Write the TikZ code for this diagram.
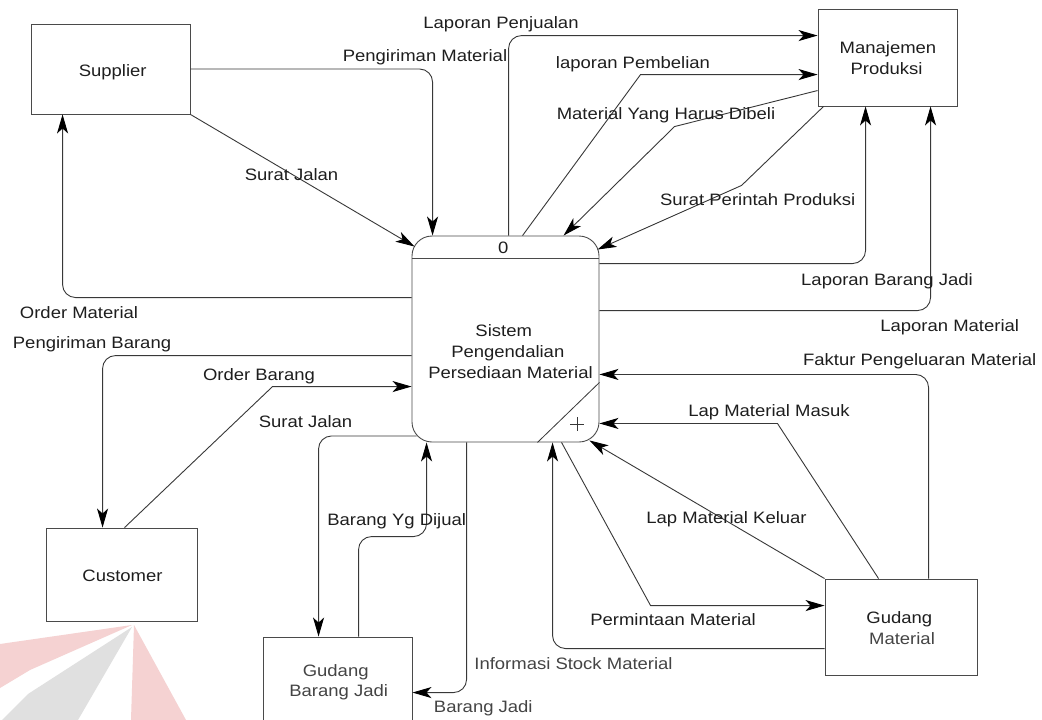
\documentclass[tikz,border=0pt]{standalone}
\usepackage{fontspec}
\setmainfont{Liberation Sans}[FakeStretch=1.12]
\usetikzlibrary{arrows.meta,calc}
\definecolor{ink}{HTML}{1E1E1E}
\definecolor{inkgray}{HTML}{444444}
\definecolor{wire}{HTML}{383838}
\definecolor{edge}{HTML}{4A4A4A}
\definecolor{markpink}{HTML}{F5D2D2}
\definecolor{markgray}{HTML}{E0E0E0}
\begin{document}
\begin{tikzpicture}[x=1pt,y=-1pt,
  every node/.style={font=\fontsize{16.5}{21}\selectfont, text=ink},
  entity/.style={draw=edge, line width=0.9pt, inner sep=0pt},
  lbl/.style={anchor=base, inner sep=0pt},
  flow/.style={draw=wire, line width=0.9pt,
    -{Stealth[length=19pt,width=11pt,inset=5pt,color=black,fill=black]}},
  bent/.style={rounded corners=13pt},
]
\clip (0,0) rectangle (1042,720);
\fill[white] (0,0) rectangle (1042,720);

% faint logo in the lower left corner
\fill[markpink] (0,644) -- (132,625) -- (30,670) -- (0,688) -- cycle;
\fill[markgray] (132,627) -- (78,720) -- (2,720) -- (28,694) -- cycle;
\fill[markpink] (134,625) -- (186,720) -- (131,720) -- cycle;

% external entities and stores
\node[entity, minimum width=159pt, minimum height=90pt] (sup) at (110.5,69) {};
\node[lbl] at (112.7,76) {Supplier};

\node[entity, minimum width=139pt, minimum height=97pt] (mp) at (887.5,57.5) {};
\node[lbl] at (888,53.3) {Manajemen};
\node[lbl] at (886.5,74) {Produksi};

\node[entity, minimum width=151pt, minimum height=93pt] (cus) at (121.5,574.5) {};
\node[lbl] at (122.5,581.3) {Customer};

\node[entity, minimum width=149pt, minimum height=88pt] (gbj) at (337.5,681) {};
\node[lbl, text=inkgray] at (335.7,676) {Gudang};
\node[lbl, text=inkgray] at (338.7,696.7) {Barang Jadi};

\node[entity, minimum width=152pt, minimum height=96pt] (gm) at (901,627) {};
\node[lbl] at (899.3,623.3) {Gudang};
\node[lbl, text=inkgray] at (902,644) {Material};

% the process
\node[entity, rounded corners=20pt, minimum width=187pt, minimum height=206pt] (P) at (505.5,339) {};
\draw[edge, line width=0.9pt] ($(P.north west)+(0,23)$) -- ($(P.north east)+(0,23)$);
\node[lbl] at (503.3,253.3) {0};
\node[lbl] at (503.7,336) {Sistem};
\node[lbl] at (507.8,357.7) {Pengendalian};
\node[lbl] at (510.5,378.3) {Persediaan Material};
\draw[wire, line width=0.8pt] ($(P.south east)+(0,-60)$) -- ($(P.south east)+(-62,0)$);
\draw[wire, line width=0.7pt] ($(P.south east)+(-22,-25)$) -- ++(0,14);
\draw[wire, line width=0.7pt] ($(P.south east)+(-29,-18)$) -- ++(14,0);

% flows with the supplier
\draw[flow,bent] (sup.east) -| ($(P.north west)+(21,0)$);
\draw[flow] (sup.south east) -- ($(P.north west)+(3,11)$);
\draw[flow,bent] ($(P.north west)+(0,62)$) -| ($(sup.south west)+(32,0)$);

% flows with the customer
\draw[flow,bent] ($(P.north west)+(0,120)$) -| ($(cus.north west)+(57,0)$);
\draw[flow] ($(cus.north west)+(79,0)$) -- ($(P.north west)+(-139,151)$) -- ($(P.north west)+(0,151)$);

% flows with the finished goods store
\draw[flow,bent] ($(P.south west)+(5,-6.5)$) -| ($(gbj.north west)+(56,0)$);
\draw[flow,bent] ($(gbj.north west)+(96,0)$) -- ++(0,-100) -| ($(P.south west)+(15,0)$);
\draw[flow,bent] ($(P.south west)+(55,0)$) |- ($(gbj.north east)+(0,56)$);

% flows with the material store
\draw[flow,bent] ($(gm.north west)+(0,70)$) -| ($(P.south west)+(141,0)$);
\draw[flow] ($(P.south west)+(150,0)$) -- ($(gm.north west)+(-174,27)$) -- ($(gm.north west)+(0,27)$);
\draw[flow] (gm.north west) -- ($(P.south east)+(-10,-2)$);
\draw[flow] ($(gm.north west)+(54,0)$) -- ($(P.south east)+(178,-19)$) -- ($(P.south east)+(0,-19)$);
\draw[flow,bent] ($(gm.north west)+(104,0)$) |- ($(P.south east)+(0,-68)$);

% flows with production management
\draw[flow,bent] ($(P.north east)+(0,75)$) -| ($(mp.south west)+(113,0)$);
\draw[flow,bent] ($(P.north east)+(0,28)$) -| ($(mp.south west)+(48,0)$);
\draw[flow] ($(mp.south west)+(6,0)$) -- ($(mp.south west)+(-76,79)$) -- ($(P.north east)+(-2,14)$);
\draw[flow] ($(mp.north west)+(0,82)$) -- ($(mp.north west)+(-143,118)$) -- ($(P.north west)+(152,0)$);
\draw[flow] ($(P.north west)+(111,0)$) -- ($(mp.north west)+(-177,66)$) -- ($(mp.north west)+(0,66)$);
\draw[flow,bent] ($(P.north west)+(97,0)$) |- ($(mp.north west)+(0,27)$);

% flow labels
\node[lbl] at (501,28.7) {Laporan Penjualan};
\node[lbl] at (425,61.7) {Pengiriman Material};
\node[lbl] at (633,68.5) {laporan Pembelian};
\node[lbl] at (666,119) {Material Yang Harus Dibeli};
\node[lbl] at (291.5,180) {Surat Jalan};
\node[lbl] at (757.7,205) {Surat Perintah Produksi};
\node[lbl] at (887,285.7) {Laporan Barang Jadi};
\node[lbl] at (79,318.3) {Order Material};
\node[lbl] at (949.7,331.3) {Laporan Material};
\node[lbl] at (92,348.3) {Pengiriman Barang};
\node[lbl] at (919.7,365.7) {Faktur Pengeluaran Material};
\node[lbl] at (259,380) {Order Barang};
\node[lbl] at (769,416.7) {Lap Material Masuk};
\node[lbl] at (305.5,427.3) {Surat Jalan};
\node[lbl] at (726.5,523.3) {Lap Material Keluar};
\node[lbl] at (396.7,525) {Barang Yg Dijual};
\node[lbl] at (673,625.7) {Permintaan Material};
\node[lbl, text=inkgray] at (573.5,669) {Informasi Stock Material};
\node[lbl, text=inkgray] at (483.3,712) {Barang Jadi};
\end{tikzpicture}
\end{document}
